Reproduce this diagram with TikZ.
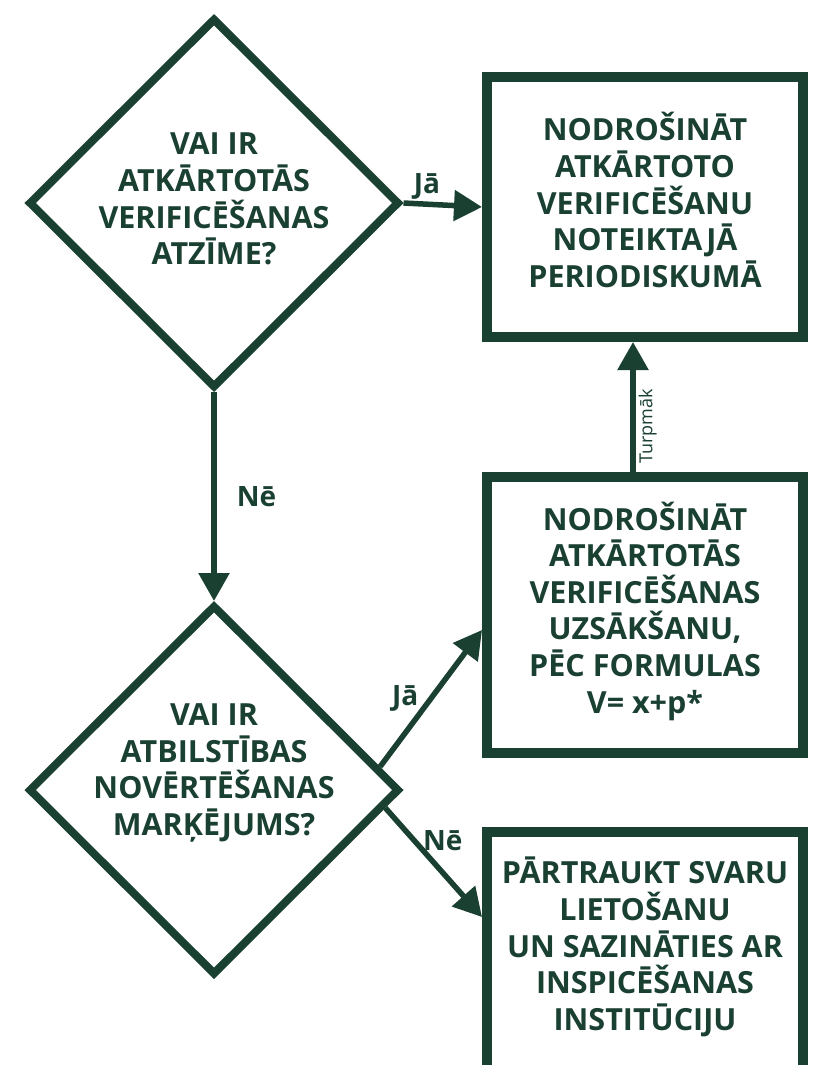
\documentclass[tikz,border=0pt]{standalone}
\usepackage{fontspec}
\setmainfont{Open Sans}
\usepackage{tikz}
\usetikzlibrary{shapes.geometric}
\usetikzlibrary{arrows.meta}
\usetikzlibrary{positioning}
\definecolor{dkgreen}{RGB}{26,64,50}

\begin{document}
\begin{tikzpicture}[
            x = 1pt, y = -1pt, % pixel grid of the sheet
            > = {Triangle[length=28pt, width=30pt]}, % arrow head style
            line width = 5.5pt,
            draw = dkgreen,
            text = dkgreen
        ]

        \tikzstyle{decision}=[
            draw = dkgreen,
            diamond,
            line width = 8pt,
            inner sep = 0pt,
            minimum width = 371pt,
            minimum height = 370pt
        ]
        \tikzstyle{box}=[
            draw = dkgreen,
            rectangle,
            line width = 10pt,
            inner sep = 0pt,
            minimum width = 316pt
        ]
        \tikzstyle{txt}=[
            align = center,
            inner sep = 0pt,
            font = \bfseries\fontsize{30.5}{36.6}\selectfont
        ]
        \tikzstyle{lbl}=[
            inner sep = 2pt,
            font = \bfseries\fontsize{28}{30}\selectfont
        ]

        \useasboundingbox (0,0) rectangle (826,1065);
        \clip (0,0) rectangle (826,1065);

        % first question
        \node[decision] (Q1) at (214,203) {};
        \node[txt] (Q1t) at (214,199) {VAI IR\\ATKĀRTOTĀS\\VERIFICĒŠANAS\\ATZĪME?};

        % second question
        \node[decision] (Q2) at (214,790) {};
        \node[txt] (Q2t) at (214,773) {VAI IR\\ATBILSTĪBAS\\NOVĒRTĒŠANAS\\MARĶĒJUMS?};

        % actions
        \node[box, minimum height = 260pt] (B1) at (645,207) {};
        \node[txt] (B1t) at (645,200) {NODROŠINĀT\\ATKĀRTOTO\\VERIFICĒŠANU\\NOTEIKTAJĀ\\PERIODISKUMĀ};

        \node[box, minimum height = 276pt] (B2) at (645,615) {};
        \node[txt] (B2t) at (645,611) {NODROŠINĀT\\ATKĀRTOTĀS\\VERIFICĒŠANAS\\UZSĀKŠANU,\\PĒC FORMULAS\\V= x+p*};

        \node[box, minimum height = 280pt] (B3) at (645,972) {};
        \node[txt] (B3t) at (645,947) {PĀRTRAUKT SVARU\\LIETOŠANU\\UN SAZINĀTIES AR\\INSPICĒŠANAS\\INSTITŪCIJU};

        % connectors
        \draw[->] (Q1.east) -- node[lbl, pos=0.3, above] {Jā} (B1.west);
        \draw[->] (Q1.south) -- node[lbl, right=18pt] {Nē} (Q2.north);
        \draw[->] (Q2.8) -- node[lbl, left=8pt] {Jā} ([yshift=-15pt]B2.west);
        \draw[->] (Q2.-6) -- node[lbl, pos=0.3, right=4pt] {Nē} ([yshift=55pt]B3.west);
        \draw[->] ([xshift=-12pt]B2.north) -- node[pos=0.35, rotate=90, anchor=north, inner sep=3pt,
            font=\fontsize{18}{20}\selectfont] {Turpmāk} ([xshift=-12pt]B1.south);

\end{tikzpicture}
\end{document}
